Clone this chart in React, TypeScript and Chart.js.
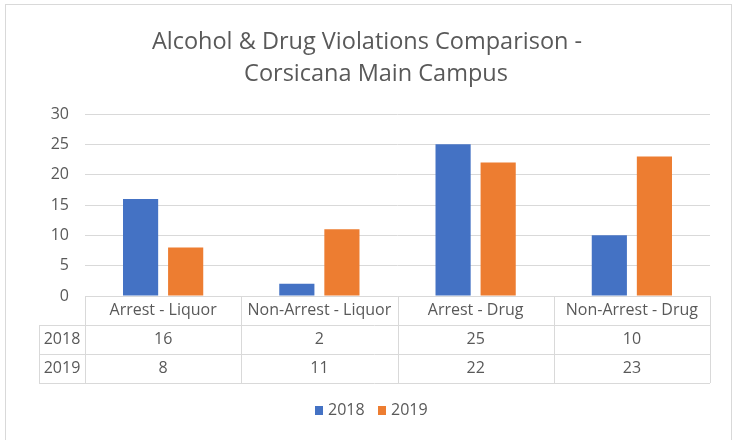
import React, { useEffect, useRef } from "react";
import { Chart, registerables } from "chart.js";

Chart.register(...registerables);

const titleLines = ["Alcohol & Drug Violations Comparison -", "Corsicana Main Campus"];
const categories = ["Arrest - Liquor", "Non-Arrest - Liquor", "Arrest - Drug", "Non-Arrest - Drug"];
const seriesNames = ["2018", "2019"];
const values2018 = [16, 2, 25, 10];
const values2019 = [8, 11, 22, 23];
const colors = ["#4472C4", "#ED7D31"];
const yTicks = [0, 5, 10, 15, 20, 25, 30];

const FONT = "'Open Sans', sans-serif";
const TEXT = "#595959";
const LINE = "#d9d9d9";
const FS = 16;

const tablePlugin = {
  id: "dataTable",
  afterDraw(chart: any) {
    const ctx = chart.ctx;
    const area = chart.chartArea;
    const xs = chart.scales.x;
    const n = categories.length;
    const colW = (area.right - area.left) / n;
    const rowH = 29;
    const top = area.bottom;
    const labelLeft = 39;
    const rows = [values2018, values2019];
    ctx.save();
    // border of whole chart
    ctx.strokeStyle = LINE;
    ctx.lineWidth = 1;
    ctx.strokeRect(5.5, 4.5, chart.width - 9, chart.height + 20);

    // title
    ctx.fillStyle = TEXT;
    ctx.font = `23.5px ${FONT}`;
    ctx.textAlign = "center";
    ctx.textBaseline = "alphabetic";
    ctx.fillText(titleLines[0], 367, 49);
    ctx.fillText(titleLines[1], 376, 81);

    // table lines
    ctx.beginPath();
    const y0 = Math.round(top) + 0.5;
    ctx.moveTo(area.left, y0);
    ctx.lineTo(area.right, y0);
    for (let r = 1; r <= rows.length + 1; r++) {
      const y = Math.round(top + r * rowH) + 0.5;
      ctx.moveTo(labelLeft, y);
      ctx.lineTo(area.right, y);
    }
    for (let c = 0; c <= n; c++) {
      const x = Math.round(area.left + c * colW) + 0.5;
      ctx.moveTo(x, top);
      ctx.lineTo(x, top + (rows.length + 1) * rowH);
    }
    const xl = labelLeft + 0.5;
    ctx.moveTo(xl, top + rowH);
    ctx.lineTo(xl, top + (rows.length + 1) * rowH);
    ctx.stroke();

    ctx.fillStyle = TEXT;
    ctx.font = `${FS}px ${FONT}`;
    ctx.textAlign = "center";
    ctx.textBaseline = "middle";
    for (let c = 0; c < n; c++) {
      const cx = xs.getPixelForValue(c);
      ctx.fillText(categories[c], cx, top + rowH / 2);
      for (let r = 0; r < rows.length; r++) {
        ctx.fillText(String(rows[r][c]), cx, top + rowH * (r + 1) + rowH / 2);
      }
    }
    for (let r = 0; r < rows.length; r++) {
      ctx.fillText(seriesNames[r], (labelLeft + area.left) / 2, top + rowH * (r + 1) + rowH / 2);
    }

    // legend
    const legY = 410;
    let lx = 315;
    for (let i = 0; i < seriesNames.length; i++) {
      ctx.fillStyle = colors[i];
      ctx.fillRect(lx, legY - 4, 8, 9);
      ctx.fillStyle = TEXT;
      ctx.textAlign = "left";
      ctx.fillText(seriesNames[i], lx + 13, legY);
      lx += 63;
    }
    ctx.restore();
  },
};

export default function App() {
  const ref = useRef<HTMLCanvasElement>(null);
  useEffect(() => {
    document.body.style.margin = "0";
    const chart = new Chart(ref.current!, {
      type: "bar",
      data: {
        labels: categories,
        datasets: [
          { label: seriesNames[0], data: values2018, backgroundColor: colors[0] },
          { label: seriesNames[1], data: values2019, backgroundColor: colors[1] },
        ],
      },
      options: {
        animation: false,
        responsive: false,
        maintainAspectRatio: false,
        layout: { padding: { top: 114, right: 25, bottom: 144, left: 0 } },
        datasets: { bar: { categoryPercentage: 0.577, barPercentage: 0.78 } },
        plugins: {
          legend: { display: false },
          tooltip: { enabled: false },
          title: { display: false },
        },
        scales: {
          x: { display: false },
          y: {
            min: 0,
            max: 30,
            afterFit: (s: any) => { s.width = 85; },
            afterBuildTicks: (s: any) => { s.ticks = yTicks.map((v) => ({ value: v })); },
            ticks: { color: TEXT, font: { family: FONT, size: FS }, padding: 16 },
            grid: { color: LINE, drawTicks: false },
            border: { display: false },
          },
        },
      },
      plugins: [tablePlugin],
    });
    return () => chart.destroy();
  }, []);
  return <canvas ref={ref} width={735} height={440} style={{ display: "block" }} />;
}
